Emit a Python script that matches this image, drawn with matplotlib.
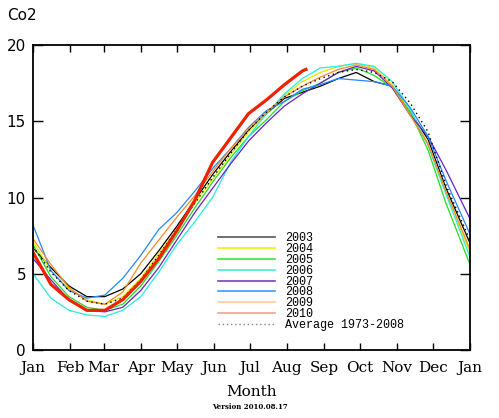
import matplotlib
matplotlib.use("Agg")
import matplotlib.pyplot as plt
from matplotlib.lines import Line2D

# day of year for each sample
days = [0, 15, 30, 45, 60, 75, 90, 105, 120, 135, 150, 165, 180,
        195, 210, 225, 240, 255, 270, 285, 300, 315, 330, 345, 365]

y2003 = [6.7, 5.4, 4.2, 3.5, 3.5, 4.0, 5.0, 6.5, 8.1, 9.8, 11.5, 13.0, 14.4,
         15.5, 16.5, 16.9, 17.3, 17.8, 18.2, 17.6, 17.3, 15.6, 13.8, 10.6, 7.0]
y2004 = [7.1, 5.2, 4.0, 3.3, 3.0, 3.5, 4.7, 6.3, 7.9, 9.6, 11.2, 12.8, 14.3,
         15.5, 16.7, 17.6, 18.2, 18.6, 18.8, 18.5, 17.4, 15.6, 13.5, 10.3, 6.4]
y2005 = [6.9, 4.8, 3.5, 2.8, 2.6, 3.0, 4.2, 5.8, 7.5, 9.3, 11.0, 12.6, 14.0,
         15.1, 16.3, 17.0, 17.5, 18.2, 18.5, 18.0, 17.2, 15.6, 13.1, 9.6, 5.6]
y2006 = [5.0, 3.4, 2.6, 2.3, 2.2, 2.6, 3.5, 5.1, 6.9, 8.4, 10.0, 12.3, 14.0,
         15.5, 16.8, 17.8, 18.5, 18.6, 18.8, 18.6, 17.6, 15.8, 13.4, 10.2, 6.1]
y2007 = [6.0, 4.6, 3.3, 2.6, 2.5, 2.8, 3.9, 5.4, 7.2, 9.0, 10.6, 12.2, 13.7,
         14.9, 16.0, 16.8, 17.5, 18.2, 18.6, 18.3, 17.2, 15.4, 14.0, 11.8, 8.6]
y2008 = [8.2, 5.2, 3.9, 3.4, 3.6, 4.7, 6.2, 7.9, 9.0, 10.4, 11.9, 13.2, 14.6,
         15.7, 16.3, 17.1, 17.4, 17.8, 17.7, 17.6, 17.3, 15.9, 14.0, 11.1, 7.6]
y2009 = [7.3, 5.6, 4.1, 3.2, 3.0, 3.8, 5.7, 7.2, 8.7, 10.1, 11.7, 13.2, 14.5,
         15.6, 16.6, 17.3, 17.9, 18.4, 18.7, 18.4, 17.3, 15.4, 13.5, 10.4, 6.6]
avg = [6.8, 5.1, 3.9, 3.2, 3.0, 3.4, 4.6, 6.2, 7.9, 9.6, 11.3, 12.9, 14.4,
       15.6, 16.6, 17.3, 17.8, 18.2, 18.4, 18.2, 17.6, 16.2, 14.3, 10.8, 7.2]

days2010 = [0, 15, 30, 45, 60, 75, 90, 105, 120, 135, 150, 165, 180,
            195, 210, 225, 228]
y2010 = [6.4, 4.3, 3.3, 2.6, 2.6, 3.3, 4.5, 6.0, 7.8, 9.8, 12.3, 13.9, 15.5,
         16.4, 17.4, 18.3, 18.4]

months = ["Jan", "Feb", "Mar", "Apr", "May", "Jun", "Jul",
          "Aug", "Sep", "Oct", "Nov", "Dec", "Jan"]
month_start = [0, 31, 59, 90, 120, 151, 181, 212, 243, 273, 304, 334, 365]

series = [("2003", y2003, "black"),
          ("2004", y2004, "#e6e600"),
          ("2005", y2005, "#22dd22"),
          ("2006", y2006, "#22eedd"),
          ("2007", y2007, "#6622cc"),
          ("2008", y2008, "#2288ff"),
          ("2009", y2009, "#ff8822")]
legend_cols = ["#555555", "#f2f200", "#44e044", "#44f0d0",
               "#7740cc", "#4499ff", "#ffcc99", "#f4a090"]

fig = plt.figure(figsize=(4.99, 4.18), dpi=100)
ax = fig.add_axes([0.0661, 0.1627, 0.8758, 0.7296])

for name, vals, col in series:
    ax.plot(days, vals, color=col, lw=0.9)
ax.plot(days, avg, color="black", lw=1.0, linestyle=(0, (1, 2.5)))
ax.plot(days2010, y2010, color="#ee2200", lw=2.3)

ax.set_xlim(0, 365)
ax.set_ylim(0, 20)
ax.set_xticks(month_start)
ax.set_xticklabels(months, family="DejaVu Serif", fontsize=11)
ax.set_yticks([0, 5, 10, 15, 20])
ax.tick_params(axis="x", direction="in", top=True, length=5, width=1, pad=8)
ax.tick_params(axis="y", direction="in", right=True, length=7, width=1,
               labelsize=11, pad=5)
for s in ax.spines.values():
    s.set_linewidth(1.3)

ax.set_xlabel("Month", family="DejaVu Serif", fontsize=11, labelpad=7)
fig.text(0.5, 0.022, "Version 2010.08.17", ha="center", fontsize=5,
         family="DejaVu Serif", weight="bold")
fig.text(0.014, 0.952, "Co2", fontsize=11)

labels = [s[0] for s in series] + ["2010", "Average 1973-2008"]
handles = [Line2D([], [], color=c, lw=1.2) for c in legend_cols]
handles.append(Line2D([], [], color="gray", lw=1.0, linestyle=(0, (1, 2))))
ax.legend(handles, labels, loc="upper left", bbox_to_anchor=(0.41, 0.405),
          frameon=False, prop={"family": "Liberation Mono", "size": 8.5},
          labelspacing=-0.1, handlelength=4.8, handletextpad=0.9,
          borderpad=0)

fig.savefig("out.png", dpi=100)
